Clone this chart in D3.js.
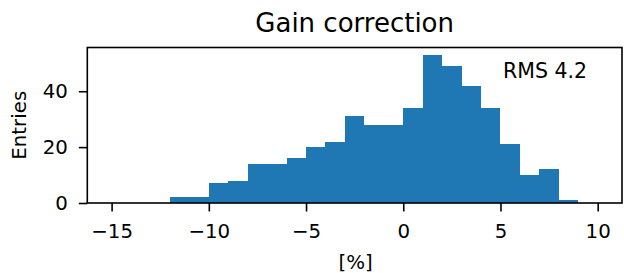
<!DOCTYPE html>
<html>
<head>
<meta charset="utf-8">
<script src="https://cdn.jsdelivr.net/npm/d3@7"></script>
<style>
  body { margin: 0; background: #fff; }
  text { font-family: "DejaVu Sans", sans-serif; fill: #000; }
</style>
</head>
<body>
<svg id="chart" width="624" height="273"></svg>
<script>
// histogram bins, width 1, from -15 to 10
var binStarts = d3.range(-15, 10);
var counts = [0, 0, 0, 2, 2, 7, 8, 14, 14, 16, 20, 22, 31, 28, 28, 34, 53, 49, 42, 34, 21, 10, 12, 1, 0];
var xTicks = [-15, -10, -5, 0, 5, 10];
var yTicks = [0, 20, 40];
var title = "Gain correction";
var xLabel = "[%]";
var yLabel = "Entries";
var rmsText = "RMS 4.2";

var margin = {left: 87.3, right: 2, top: 47.5, bottom: 70};
var width = 624 - margin.left - margin.right;
var height = 273 - margin.top - margin.bottom;
var fs = "19.8px";

var svg = d3.select("#chart");
var g = svg.append("g")
  .attr("transform", "translate(" + margin.left + "," + margin.top + ")");

var x = d3.scaleLinear().domain([-16.25, 11.25]).range([0, width]);
var y = d3.scaleLinear().domain([0, 53 * 1.05]).range([height, 0]);

g.selectAll("rect.bar")
  .data(binStarts.map(function(b, i) { return {x0: b, x1: b + 1, n: counts[i]}; }))
  .enter()
  .append("rect")
  .attr("class", "bar")
  .attr("x", function(d) { return x(d.x0); })
  .attr("width", function(d) { return x(d.x1) - x(d.x0); })
  .attr("y", function(d) { return y(d.n); })
  .attr("height", function(d) { return y(0) - y(d.n); })
  .style("fill", "#1f77b4")
  .style("shape-rendering", "crispEdges");

var xAxis = g.append("g")
  .attr("transform", "translate(0," + height + ")")
  .call(d3.axisBottom(x).tickValues(xTicks).tickSize(8.5).tickPadding(12)
    .tickFormat(function(d) { return d < 0 ? "\u2212" + Math.abs(d) : d; }));
var yAxis = g.append("g")
  .call(d3.axisLeft(y).tickValues(yTicks).tickSize(8.5).tickPadding(11));

[xAxis, yAxis].forEach(function(a) {
  a.select(".domain").remove();
  a.selectAll("line").style("stroke", "#000").style("stroke-width", 1.6);
  a.selectAll("text").style("font-size", fs).style("font-family", "DejaVu Sans");
});

// frame
g.append("rect")
  .attr("width", width)
  .attr("height", height)
  .style("fill", "none")
  .style("stroke", "#000")
  .style("stroke-width", 1.6);

svg.append("text")
  .attr("x", margin.left + width / 2)
  .attr("y", 32.3)
  .attr("text-anchor", "middle")
  .style("font-size", "26px")
  .text(title);

svg.append("text")
  .attr("x", margin.left + width / 2 + 1)
  .attr("y", 269)
  .attr("text-anchor", "middle")
  .style("font-size", fs)
  .text(xLabel);

svg.append("text")
  .attr("transform", "translate(26," + (margin.top + height / 2) + ") rotate(-90)")
  .attr("text-anchor", "middle")
  .style("font-size", fs)
  .text(yLabel);

svg.append("text")
  .attr("x", 545)
  .attr("y", 77.7)
  .attr("text-anchor", "middle")
  .style("font-size", "20.5px")
  .text(rmsText);
</script>
</body>
</html>
